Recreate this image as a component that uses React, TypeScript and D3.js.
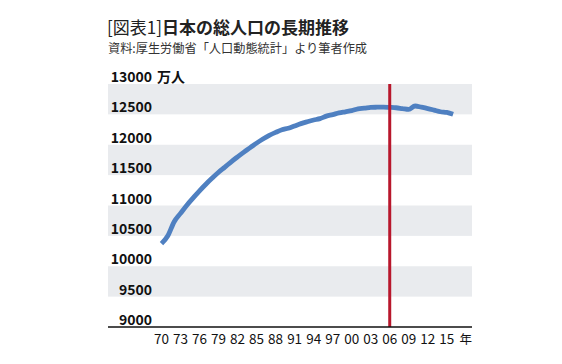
import React from "react";
import * as d3 from "d3";

const years: number[] = [
  1970, 1971, 1972, 1973, 1974, 1975, 1976, 1977, 1978, 1979,
  1980, 1981, 1982, 1983, 1984, 1985, 1986, 1987, 1988, 1989,
  1990, 1991, 1992, 1993, 1994, 1995, 1996, 1997, 1998, 1999,
  2000, 2001, 2002, 2003, 2004, 2005, 2006, 2007, 2008, 2009,
  2010, 2011, 2012, 2013, 2014, 2015, 2016,
];
const population: number[] = [
  10372, 10501, 10733, 10871, 11005, 11125, 11242, 11350, 11451, 11547,
  11632, 11720, 11801, 11879, 11952, 12027, 12095, 12154, 12203, 12246,
  12272, 12310, 12348, 12379, 12407, 12430, 12471, 12496, 12525, 12543,
  12561, 12591, 12601, 12614, 12618, 12620, 12615, 12609, 12595, 12582,
  12638, 12618, 12596, 12570, 12543, 12532, 12502,
];
const yTicks: number[] = [9000, 9500, 10000, 10500, 11000, 11500, 12000, 12500, 13000];
const xTickYears: number[] = [1970, 1973, 1976, 1979, 1982, 1985, 1988, 1991, 1994, 1997, 2000, 2003, 2006, 2009, 2012, 2015];
const markerYear = 2006;
const title1 = "[図表1]";
const title2 = "日本の総人口の長期推移";
const subtitle = "資料:厚生労働省「人口動態統計」より筆者作成";
const yUnit = "万人";
const xUnit = "年";

const W = 562;
const H = 364;
const plotLeft = 108;
const plotRight = 472;

export default function App() {
  const x = d3.scaleLinear().domain([1970, 2018]).range([161.5, 465.8]);
  const y = d3.scaleLinear().domain([9000, 13000]).range([327, 84]);
  const line = d3
    .line<number>()
    .x((_, i) => x(years[i]))
    .y((d) => y(d))
    .curve(d3.curveMonotoneX);

  const bands = yTicks.slice(0, -1).map((v, i) => ({ lo: v, hi: yTicks[i + 1], shaded: i % 2 === 1 }));
  const cjk = "'Noto Sans CJK JP', 'Noto Sans', sans-serif";

  return (
    <svg
      width={W}
      height={H}
      viewBox={`0 0 ${W} ${H}`}
      style={{ position: "absolute", left: 0, top: 0, background: "#fff" }}
    >
      <rect x={0} y={0} width={W} height={H} fill="#fff" />
      <text x={107} y={34} fontFamily={cjk} fontSize={17} fill="#222">
        <tspan fontWeight={400}>{title1}</tspan>
        <tspan fontWeight={700}>{title2}</tspan>
      </text>
      <text x={108} y={53} fontFamily={cjk} fontSize={12.5} fill="#333" textLength={259} lengthAdjust="spacingAndGlyphs">
        {subtitle}
      </text>

      {bands.filter((b) => b.shaded).map((b) => (
        <rect
          key={b.lo}
          x={plotLeft}
          y={y(b.hi)}
          width={plotRight - plotLeft}
          height={y(b.lo) - y(b.hi)}
          fill="#e9ebee"
        />
      ))}

      {yTicks.map((t) => (
        <text
          key={t}
          x={152}
          y={y(t) - 2}
          textAnchor="end"
          fontFamily={cjk}
          fontWeight={700}
          fontSize={14}
          fill="#111"
        >
          {t}
        </text>
      ))}
      <text x={157} y={y(13000) - 2} fontFamily={cjk} fontWeight={700} fontSize={14} fill="#111">
        {yUnit}
      </text>

      <path d={line(population) || ""} fill="none" stroke="#4f80c1" strokeWidth={4.8} strokeLinejoin="round" />

      <line x1={x(markerYear)} x2={x(markerYear)} y1={y(13000)} y2={y(9000)} stroke="#b8172c" strokeWidth={3} />

      <line x1={plotLeft} x2={plotRight} y1={y(9000)} y2={y(9000)} stroke="#111" strokeWidth={1.5} />

      {xTickYears.map((yr) => (
        <text
          key={yr}
          x={x(yr)}
          y={344}
          textAnchor="middle"
          fontFamily={"'Liberation Sans Narrow', 'Noto Sans CJK JP', sans-serif"}
          fontSize={13.5}
          fill="#111"
        >
          {String(yr % 100).padStart(2, "0")}
        </text>
      ))}
      <text x={x(2018)} y={344} textAnchor="middle" fontFamily={cjk} fontSize={12.5} fill="#111">
        {xUnit}
      </text>
    </svg>
  );
}
